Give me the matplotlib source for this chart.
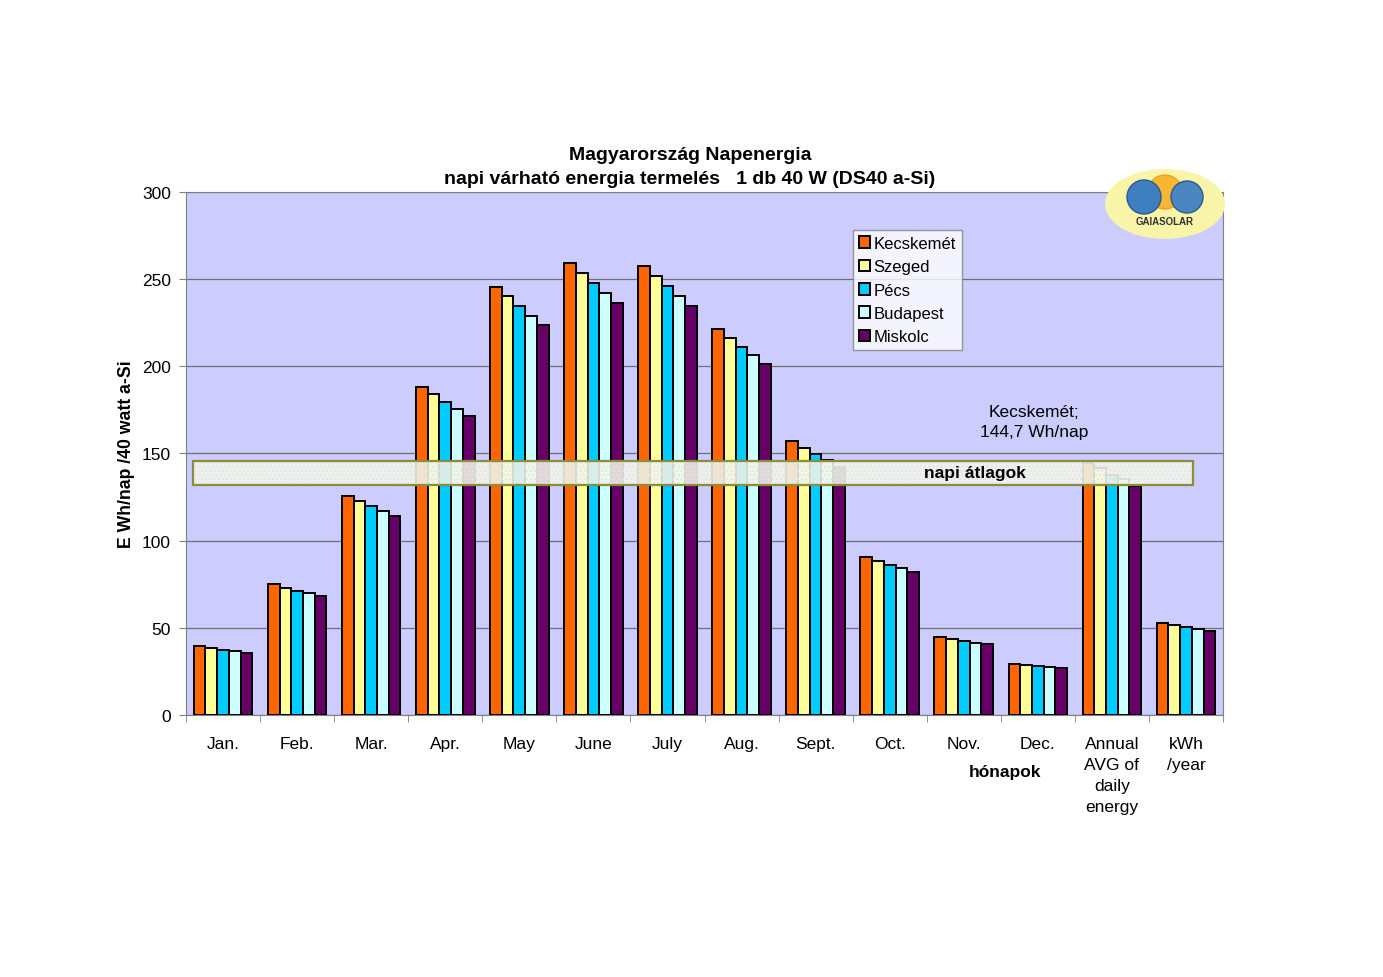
import matplotlib
matplotlib.use("Agg")
import matplotlib.pyplot as plt
import numpy as np
from matplotlib.patches import Ellipse, Rectangle

plt.rcParams['font.family'] = ['Liberation Sans', 'DejaVu Sans']

categories = ["Jan.", "Feb.", "Mar.", "Apr.", "May", "June", "July", "Aug.", "Sept.",
              "Oct.", "Nov.", "Dec.", "Annual\nAVG of\ndaily\nenergy", "kWh\n/year"]
series_names = ["Kecskemét", "Szeged", "Pécs", "Budapest", "Miskolc"]
kecskemet = [39.4, 75.0, 125.6, 188.2, 245.5, 259.3, 257.6, 221.4, 157.2, 90.6, 44.5, 29.3, 144.7, 52.8]
szeged    = [38.4, 73.0, 122.8, 184.1, 240.4, 253.6, 251.8, 216.3, 153.2, 88.3, 43.6, 28.5, 141.7, 51.6]
pecs      = [37.5, 71.3, 119.9, 179.6, 234.6, 247.8, 246.1, 211.1, 149.7, 86.2, 42.4, 27.9, 137.8, 50.3]
budapest  = [36.9, 69.8, 117.0, 175.5, 228.9, 242.1, 240.4, 206.5, 146.3, 84.1, 41.5, 27.3, 135.4, 49.5]
miskolc   = [35.7, 68.1, 114.2, 171.5, 223.7, 236.3, 234.6, 201.4, 142.5, 82.2, 40.5, 26.8, 131.5, 48.0]
series = [kecskemet, szeged, pecs, budapest, miskolc]
colors = ["#ff6600", "#ffff99", "#00ccff", "#ccffff", "#660066"]
yticks = [0, 50, 100, 150, 200, 250, 300]

fig = plt.figure(figsize=(13.83, 9.78), dpi=100)
ax = fig.add_axes([0.1345, 0.2679, 0.7498, 0.5348])
ax.set_facecolor("#ccccff")

def fx(px):
    return px / 1383
def fy(py):
    return 1 - py / 978

x = np.arange(len(categories))
bw = 0.158
for i, (name, vals, c) in enumerate(zip(series_names, series, colors)):
    ax.bar(x + (i - 2) * bw, vals, width=bw, color=c, edgecolor="black",
           linewidth=1.4, label=name, zorder=3)

ax.set_xlim(-0.5, len(categories) - 0.5)
ax.set_ylim(0, 300)
ax.set_yticks(yticks)
ax.grid(axis="y", color="#707070", linewidth=0.9, zorder=1)
ax.set_axisbelow(True)
for s in ax.spines.values():
    s.set_color("#808080")
ax.tick_params(axis="y", labelsize=12.5, length=5, color="#808080", pad=6)
ax.set_xticks(x)
ax.set_xticklabels(categories, fontsize=12.5, linespacing=1.5)
ax.set_xticks(np.arange(-0.5, len(categories), 1.0), minor=True)
ax.tick_params(axis="x", which="major", length=0, pad=15)
ax.tick_params(axis="x", which="minor", length=5, color="#808080")

ax.set_ylabel("E Wh/nap /40 watt a-Si", fontsize=12.7, fontweight="bold", labelpad=5)
fig.text(fx(690), fy(155), "Magyarország Napenergia", fontsize=14, fontweight="bold",
         ha="center", va="center")
fig.text(fx(690), fy(179), "napi várható energia termelés   1 db 40 W (DS40 a-Si)",
         fontsize=14, fontweight="bold", ha="center", va="center")

# napi átlagok band
band = Rectangle((-0.405, 132.2), 13.5, 13.5, facecolor="#f2f6ec", alpha=0.88,
                 edgecolor="none", zorder=4, hatch="....")
band.set_edgecolor("#e2e6da")
band.set_linewidth(0)
ax.add_patch(band)
ax.add_patch(Rectangle((-0.405, 132.2), 13.5, 13.5, facecolor="none",
                       edgecolor="#8c8c3c", linewidth=1.6, zorder=5))
ax.text(10.15, 139.0, "napi átlagok", fontsize=12.5, fontweight="bold",
        ha="center", va="center", zorder=6)

ax.text(10.95, 168.5, "Kecskemét;\n144,7 Wh/nap", fontsize=12.5, ha="center",
        va="center", linespacing=1.4, zorder=6)

leg = ax.legend(loc="upper left", bbox_to_anchor=(0.643, 0.927), borderaxespad=0,
                fontsize=12, frameon=True, fancybox=False, handlelength=0.7,
                handleheight=0.7, handletextpad=0.2, labelspacing=0.5,
                borderpad=0.35)
leg.get_frame().set_edgecolor("#808080")
leg.get_frame().set_linewidth(1.0)
leg.set_zorder(7)

fig.text(fx(1005), fy(772), "hónapok", fontsize=12.5, fontweight="bold",
         ha="center", va="center")

# logo
fig.patches.append(Ellipse((fx(1165), fy(205)), 120 / 1383, 70 / 978,
                           transform=fig.transFigure, facecolor="#f8f4a8",
                           edgecolor="none", zorder=10))
fig.patches.append(Ellipse((fx(1165), fy(193)), 34 / 1383, 34 / 978,
                           transform=fig.transFigure, facecolor="#f7b733",
                           edgecolor="#f0a020", zorder=11))
fig.patches.append(Ellipse((fx(1144), fy(198)), 34 / 1383, 34 / 978,
                           transform=fig.transFigure, facecolor="#3f7fbf",
                           edgecolor="#2a5a90", zorder=12))
fig.patches.append(Ellipse((fx(1187), fy(198)), 32 / 1383, 32 / 978,
                           transform=fig.transFigure, facecolor="#4a86c0",
                           edgecolor="#2a5a90", zorder=12))
fig.text(fx(1165), fy(222), "GAIASOLAR", fontsize=7, fontweight="bold",
         color="#333333", ha="center", va="center", zorder=13)

fig.savefig("out.png", dpi=100, facecolor="white")
